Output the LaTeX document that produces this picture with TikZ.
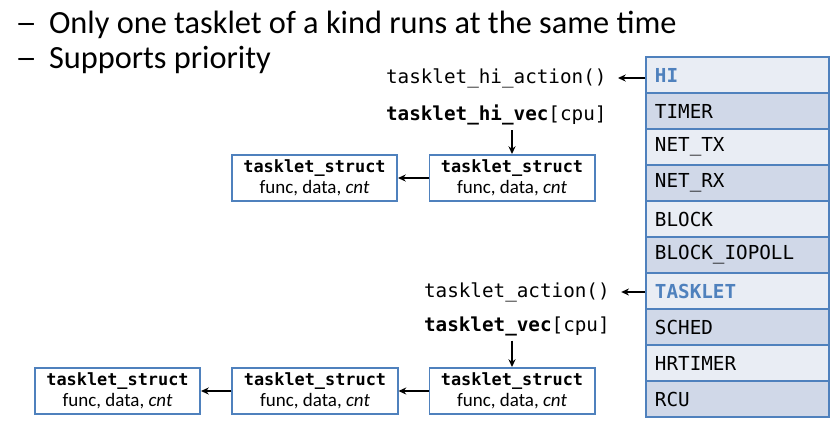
\documentclass[tikz,border=0pt]{standalone}
\usepackage{fontspec}
\setmainfont{Carlito}
\setmonofont{DejaVu Sans Mono}
\usetikzlibrary{arrows.meta}

\definecolor{rowlight}{HTML}{E9EDF4}
\definecolor{rowdark}{HTML}{D0D8E8}
\definecolor{tblue}{HTML}{4F81BD}

\begin{document}
\begin{tikzpicture}[
    x=0.025cm, y=-0.025cm,
    bullet/.style={anchor=base west, inner sep=0pt, font=\fontsize{23}{27}\selectfont},
    row/.style={draw=tblue, line width=0.8pt, minimum width=4.575cm, minimum height=0.9cm,
        text width=4.125cm, inner xsep=0.225cm, align=left, font=\fontsize{13.7}{16}\ttfamily},
    light/.style={row, fill=rowlight},
    dark/.style={row, fill=rowdark},
    hot/.style={text=tblue, font=\fontsize{13.7}{16}\ttfamily\bfseries},
    func/.style={anchor=west, inner xsep=2pt, font=\fontsize{13.7}{16}\ttfamily},
    tstruct/.style={draw=tblue, line width=1.4pt, minimum width=4.125cm, minimum height=1.15cm,
        align=center, inner sep=1pt, font=\fontsize{13.5}{15}\selectfont},
    arr/.style={-{Stealth[length=5.5pt, width=5pt]}, line width=1pt}
]
    \useasboundingbox (0,0) rectangle (839,428);

    % Bullet points
    \node[bullet] (only) at (15,33) {\scalebox{1.35}[1]{–}\hspace{0.3cm}Only one tasklet of a kind runs at the same time};
    \node[bullet] (prio) at (15,68) {\scalebox{1.35}[1]{–}\hspace{0.3cm}Supports priority};

    % Softirq vector
    \node[light, hot] (hi)      at (737.5,75)  {HI};
    \node[dark]       (timer)   at (737.5,111) {TIMER};
    \node[light]      (nettx)   at (737.5,147) {NET\_TX};
    \node[dark]       (netrx)   at (737.5,183) {NET\_RX};
    \node[light]      (block)   at (737.5,219) {BLOCK};
    \node[dark]       (iopoll)  at (737.5,255) {BLOCK\_IOPOLL};
    \node[light, hot] (tasklet) at (737.5,291) {TASKLET};
    \node[dark]       (sched)   at (737.5,327) {SCHED};
    \node[light]      (hrtimer) at (737.5,363) {HRTIMER};
    \node[dark]       (rcu)     at (737.5,399) {RCU};

    % High priority tasklets
    \node[func] (hiact) at (383,78)  {tasklet\_hi\_action()};
    \node[func] (hivec) at (383,115) {\textbf{tasklet\_hi\_vec}[cpu]};
    \node[tstruct] (hitwo) at (512,178)
        {{\fontsize{12}{15}\ttfamily\bfseries tasklet\_struct}\\func, data, \textit{cnt}};
    \node[tstruct] (hione) at (314.5,178)
        {{\fontsize{12}{15}\ttfamily\bfseries tasklet\_struct}\\func, data, \textit{cnt}};

    % Normal tasklets
    \node[func] (tact) at (421,292) {tasklet\_action()};
    \node[func] (tvec) at (421,326) {\textbf{tasklet\_vec}[cpu]};
    \node[tstruct] (tthree) at (512,391)
        {{\fontsize{12}{15}\ttfamily\bfseries tasklet\_struct}\\func, data, \textit{cnt}};
    \node[tstruct] (ttwo) at (315,391)
        {{\fontsize{12}{15}\ttfamily\bfseries tasklet\_struct}\\func, data, \textit{cnt}};
    \node[tstruct] (tone) at (117.5,391)
        {{\fontsize{12}{15}\ttfamily\bfseries tasklet\_struct}\\func, data, \textit{cnt}};

    % Arrows
    \draw[arr, shorten >=6] (hiact.east -| hi.west) -- (hiact.east);
    \draw[arr] (hitwo.north |- hivec.south) -- (hitwo.north);
    \draw[arr] (hitwo) -- (hione);
    \draw[arr, shorten >=6] (tact.east -| tasklet.west) -- (tact.east);
    \draw[arr] (tthree.north |- tvec.south) -- (tthree.north);
    \draw[arr] (tthree) -- (ttwo);
    \draw[arr] (ttwo) -- (tone);

\end{tikzpicture}
\end{document}
